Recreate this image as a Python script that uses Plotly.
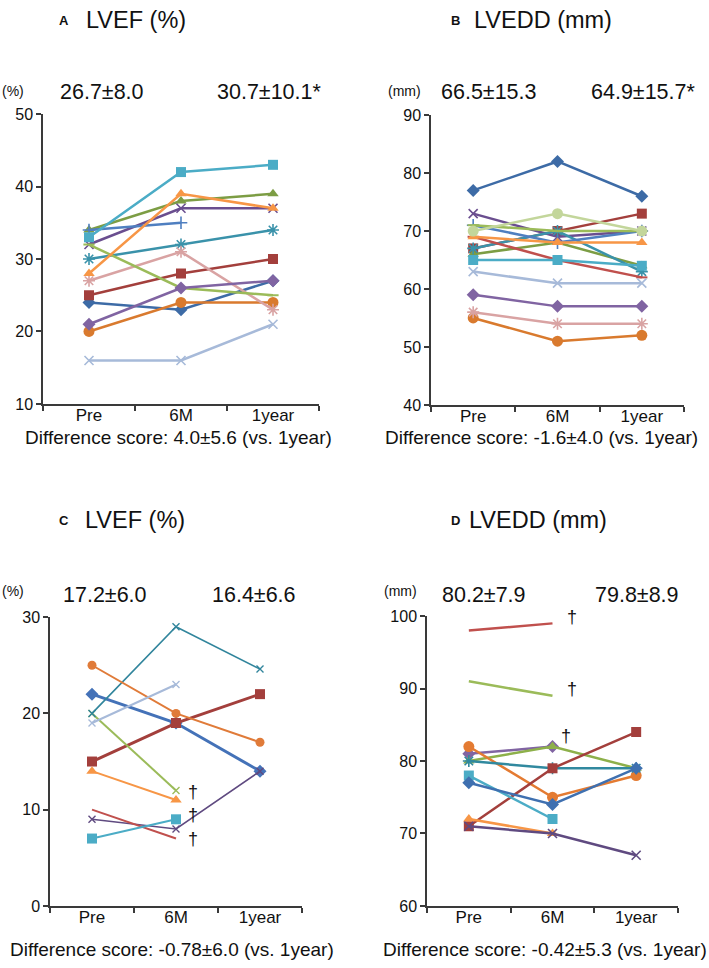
import plotly.graph_objects as go

W, H = 709, 968
CATS = ["Pre", "6M", "1year"]

# ---------------- Panel A : LVEF (%) ----------------
A_S1 = [24, 23, 27]
A_S2 = [25, 28, 30]
A_S3 = [34, 38, 39]
A_S4 = [32, 37, 37]
A_S5 = [30, 32, 34]
A_S6 = [20, 24, 24]
A_S7 = [34, 35, None]
A_S8 = [27, 31, 23]
A_S9 = [32, 26, 25]
A_S10 = [21, 26, 27]
A_S11 = [28, 39, 37]
A_S12 = [33, 42, 43]
A_S13 = [16, 16, 21]

# ---------------- Panel B : LVEDD (mm) ----------------
B_S1 = [77, 82, 76]
B_S2 = [67, 70, 73]
B_S3 = [66, 68, 64]
B_S4 = [73, 69, 70]
B_S5 = [67, 70, 63]
B_S6 = [55, 51, 52]
B_S7 = [71, 68, 70]
B_S8 = [69, 65, 62]
B_S9 = [71, 70, 70]
B_S10 = [59, 57, 57]
B_S11 = [69, 68, 68]
B_S12 = [65, 65, 64]
B_S13 = [63, 61, 61]
B_S14 = [56, 54, 54]
B_S15 = [70, 73, 70]

# ---------------- Panel C : LVEF (%) ----------------
C_S1 = [22, 19, 14]
C_S2 = [15, 19, 22]
C_S3 = [20, 12, None]
C_S4 = [9, 8, 14]
C_S5 = [20, 29, 24.6]
C_S6 = [25, 20, 17]
C_S7 = [19, 23, None]
C_S8 = [10, 7, None]
C_S9 = [14, 11, None]
C_S10 = [7, 9, None]
C_DAGGER_Y = [11.8, 9.4, 7.0]

# ---------------- Panel D : LVEDD (mm) ----------------
D_S1 = [98, 99, None]
D_S2 = [91, 89, None]
D_S3 = [81, 82, None]
D_S4 = [80, 82, 79]
D_S5 = [82, 75, 78]
D_S6 = [80, 79, 79]
D_S7 = [71, 79, 84]
D_S8 = [78, 72, None]
D_S9 = [77, 74, 79]
D_S10 = [72, 70, None]
D_S11 = [71, 70, 67]
D_DAGGER_Y = [99.9, 90.0, 83.4]

# summary texts
A_TEXTS = ["26.7\u00b18.0", "30.7\u00b110.1*", "Difference score: 4.0\u00b15.6 (vs. 1year)"]
B_TEXTS = ["66.5\u00b115.3", "64.9\u00b115.7*", "Difference score: -1.6\u00b14.0 (vs. 1year)"]
C_TEXTS = ["17.2\u00b16.0", "16.4\u00b16.6", "Difference score: -0.78\u00b16.0 (vs. 1year)"]
D_TEXTS = ["80.2\u00b17.9", "79.8\u00b18.9", "Difference score: -0.42\u00b15.3 (vs. 1year)"]

A_VALUES = [A_S1, A_S2, A_S3, A_S4, A_S5, A_S6, A_S7, A_S8, A_S9, A_S10, A_S11, A_S12, A_S13]
B_VALUES = [B_S1, B_S2, B_S3, B_S4, B_S5, B_S6, B_S7, B_S8, B_S9, B_S10, B_S11, B_S12, B_S13, B_S14, B_S15]
C_VALUES = [C_S1, C_S2, C_S3, C_S4, C_S5, C_S6, C_S7, C_S8, C_S9, C_S10]
D_VALUES = [D_S1, D_S2, D_S3, D_S4, D_S5, D_S6, D_S7, D_S8, D_S9, D_S10, D_S11]

# styles: (color, marker kind, line width)
A_STYLE = [("#3D6BA6", "diamond", 2.5), ("#A33F3C", "square", 2.5), ("#7C9D44", "triangle", 2.5),
           ("#6A4E8F", "x", 2.5), ("#3A92AA", "star", 2.5), ("#D97A2E", "circle", 2.5),
           ("#4F7FC0", "plus", 2.5), ("#D9A3A3", "star", 2.5), ("#9BBB59", "dash", 2.5),
           ("#8064A2", "diamond", 2.5), ("#F79646", "triangle", 2.5), ("#4BACC6", "square", 2.5),
           ("#A7BAD9", "x", 2.5)]
B_STYLE = [("#3D6BA6", "diamond", 2.5), ("#A33F3C", "square", 2.5), ("#7C9D44", "triangle", 2.5),
           ("#6A4E8F", "x", 2.5), ("#3A92AA", "star", 2.5), ("#D97A2E", "circle", 2.5),
           ("#4F7FC0", "plus", 2.5), ("#C0504D", "dash", 2.5), ("#9BBB59", "dash", 2.5),
           ("#8064A2", "diamond", 2.5), ("#F79646", "triangle", 2.5), ("#4BACC6", "square", 2.5),
           ("#A7BAD9", "x", 2.5), ("#D9A3A3", "star", 2.5), ("#C3D69B", "circle", 2.5)]
C_STYLE = [("#4472B8", "diamond", 3), ("#A33F3C", "square", 3), ("#9BBB59", "xs", 2),
           ("#5F4A80", "xs", 1.6), ("#31859C", "xs", 1.6), ("#E07B39", "circles", 2),
           ("#A7BAD9", "xs", 2), ("#C0504D", "none", 2), ("#F79646", "triangle", 2),
           ("#4BACC6", "square", 2)]
D_STYLE = [("#C0504D", "none", 2.5), ("#9BBB59", "none", 2.5), ("#8064A2", "diamond", 2.5),
           ("#8DB04A", "triangle", 2.5), ("#E47B32", "circle", 2.5), ("#31899F", "star", 2.5),
           ("#A33F3C", "square", 2.5), ("#4BACC6", "square", 2.5), ("#3F70B0", "diamond", 2.5),
           ("#F79646", "triangle", 2.5), ("#5F4A80", "x", 2.5)]

MARKERS = {
    "diamond": ("diamond", 10, 0),
    "square": ("square", 10, 0),
    "triangle": ("triangle-up", 10, 0),
    "x": ("x-thin-open", 9, 1.6),
    "xs": ("x-thin-open", 7, 1.4),
    "star": ("asterisk-open", 10, 1.6),
    "circle": ("circle", 11, 0),
    "circles": ("circle", 9, 0),
    "plus": ("cross-thin-open", 9, 1.6),
    "dash": ("line-ew-open", 8, 2),
    "none": None,
}


def px_x(x):
    return x / W


def px_y(y):
    return 1 - y / H


# panel geometry in pixels: (x_left, x_right, y_bottom, y_top), y range
PANELS = [
    ("x", "y", A_VALUES, A_STYLE, (43, 319, 403, 108), [10, 50]),
    ("x2", "y2", B_VALUES, B_STYLE, (431, 684, 404, 109), [40, 90]),
    ("x3", "y3", C_VALUES, C_STYLE, (50, 302, 914, 620), [0, 30]),
    ("x4", "y4", D_VALUES, D_STYLE, (427, 678, 914, 619), [60, 100]),
]

fig = go.Figure()
layout_axes = {}
AXC = "#3a3a3a"
FONT = "Arial, Liberation Sans, sans-serif"

for xa, ya, values, styles, (xl, xr, yb, yt), yr in PANELS:
    for vals, (color, mk, lw) in zip(values, styles):
        spec = MARKERS[mk]
        if spec is None:
            fig.add_trace(go.Scatter(
                x=CATS, y=vals, xaxis=xa, yaxis=ya, mode="lines",
                connectgaps=False, showlegend=False, hoverinfo="skip",
                line=dict(color=color, width=lw)))
            continue
        sym, size, mlw = spec
        fig.add_trace(go.Scatter(
            x=CATS, y=vals, xaxis=xa, yaxis=ya, mode="lines+markers",
            connectgaps=False, showlegend=False, hoverinfo="skip",
            line=dict(color=color, width=lw),
            marker=dict(symbol=sym, size=size, color=color,
                        line=dict(color=color, width=mlw)),
        ))
    xkey = "xaxis" if xa == "x" else "xaxis" + xa[1:]
    ykey = "yaxis" if ya == "y" else "yaxis" + ya[1:]
    layout_axes[xkey] = dict(
        domain=[px_x(xl), px_x(xr)], anchor=ya, type="category",
        categoryorder="array", categoryarray=CATS, range=[-0.5, 2.5],
        tickson="boundaries", ticks="outside", ticklen=5, tickwidth=1.5, tickcolor=AXC,
        showline=True, linecolor=AXC, linewidth=1.5, showgrid=False, zeroline=False,
        ticklabelstandoff=-5,
        tickfont=dict(size=17, color="#111", family=FONT), fixedrange=True,
    )
    layout_axes[ykey] = dict(
        domain=[px_y(yb), px_y(yt)], anchor=xa, range=yr, dtick=10,
        ticks="outside", ticklen=5, tickwidth=1.5, tickcolor=AXC,
        showline=True, linecolor=AXC, linewidth=1.5, showgrid=False, zeroline=False,
        tickfont=dict(size=16, color="#111", family=FONT), fixedrange=True,
    )

ann = []
T_TITLE, T_NUM, T_DIFF, T_UNIT, T_LET = 23.5, 21.5, 19, 14, 13


def txt(text, x, y, size, anchor="left", bold=False):
    ann.append(dict(text=("<b>%s</b>" % text) if bold else text, x=px_x(x), y=px_y(y),
                    xref="paper", yref="paper", xanchor=anchor, yanchor="middle",
                    showarrow=False, font=dict(size=size, color="#111", family=FONT)))


# Panel A texts
txt("A", 57, 13, T_LET, bold=True)
txt("LVEF (%)", 84, 12, T_TITLE)
txt("(%)", 0, 84, T_UNIT)
txt(A_TEXTS[0], 58, 86, T_NUM)
txt(A_TEXTS[1], 215, 86, T_NUM)
txt(A_TEXTS[2], 178, 437, T_DIFF, anchor="center")
# Panel B texts
txt("B", 449, 13, T_LET, bold=True)
txt("LVEDD (mm)", 472, 12, T_TITLE)
txt("(mm)", 386, 84, T_UNIT)
txt(B_TEXTS[0], 439, 86, T_NUM)
txt(B_TEXTS[1], 589, 86, T_NUM)
txt(B_TEXTS[2], 541, 437, T_DIFF, anchor="center")
# Panel C texts
txt("C", 57, 522, T_LET, bold=True)
txt("LVEF (%)", 83, 521, T_TITLE)
txt("(%)", 0, 593, T_UNIT)
txt(C_TEXTS[0], 61, 597, T_NUM)
txt(C_TEXTS[1], 210, 597, T_NUM)
txt(C_TEXTS[2], 172, 958, T_DIFF, anchor="center")
# Panel D texts
txt("D", 449, 522, T_LET, bold=True)
txt("LVEDD (mm)", 467, 521, T_TITLE)
txt("(mm)", 382, 593, T_UNIT)
txt(D_TEXTS[0], 440, 597, T_NUM)
txt(D_TEXTS[1], 593, 597, T_NUM)
txt(D_TEXTS[2], 709, 958, T_DIFF, anchor="right")

# daggers (deaths) placed in data coordinates
for yv in C_DAGGER_Y:
    ann.append(dict(text="\u2020", x="6M", y=yv, xref="x3", yref="y3", xshift=17,
                    showarrow=False, font=dict(size=18, color="#111", family=FONT)))
for yv, sh in zip(D_DAGGER_Y, [19, 19, 13]):
    ann.append(dict(text="\u2020", x="6M", y=yv, xref="x4", yref="y4", xshift=sh,
                    showarrow=False, font=dict(size=18, color="#111", family=FONT)))

fig.update_layout(
    width=W, height=H, margin=dict(l=0, r=0, t=0, b=0),
    paper_bgcolor="white", plot_bgcolor="white",
    font=dict(family=FONT, color="#111"),
    annotations=ann, **layout_axes,
)

fig.write_html("out.html", config={"displayModeBar": False},
               post_script="document.body.style.margin='0';document.body.style.overflow='hidden';")
